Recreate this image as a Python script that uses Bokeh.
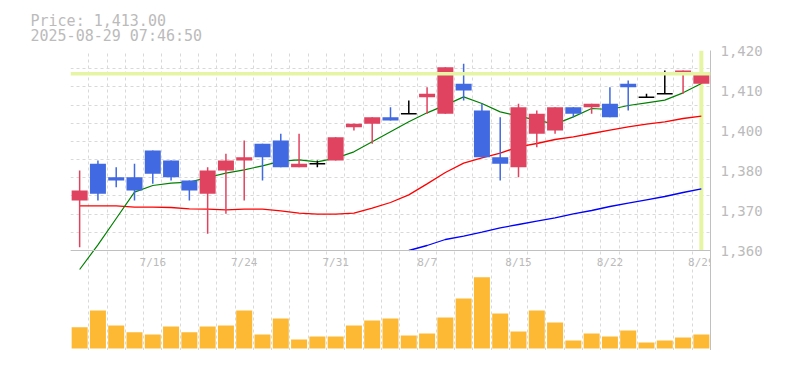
import math
from bokeh.plotting import figure
from bokeh.models import (ColumnDataSource, FixedTicker, Range1d, Span, Title)
from bokeh.core.properties import value
from bokeh.embed import file_html
from bokeh.resources import INLINE

# ---------------- data ----------------
dates = ["7/10", "7/11", "7/14", "7/15", "7/16", "7/17", "7/18", "7/22", "7/23", "7/24",
         "7/25", "7/28", "7/29", "7/30", "7/31", "8/1", "8/4", "8/5", "8/6", "8/7",
         "8/8", "8/12", "8/13", "8/14", "8/15", "8/18", "8/19", "8/20", "8/21", "8/22",
         "8/25", "8/26", "8/27", "8/28", "8/29"]
opens = [1375, 1386, 1382, 1382, 1390, 1387, 1381, 1377, 1384, 1387,
         1392, 1393, 1385, 1386, 1387, 1397, 1398, 1400, 1401, 1406,
         1401, 1410, 1402, 1388, 1385, 1395, 1396, 1403, 1403, 1404,
         1410, 1406, 1407, 1413, 1410]
highs = [1384, 1387, 1385, 1386, 1390, 1387, 1381, 1385, 1389, 1393,
         1392, 1395, 1395, 1387, 1394, 1398, 1400, 1403, 1405, 1409,
         1415, 1416, 1404, 1400, 1404, 1402, 1403, 1403, 1404, 1409,
         1411, 1407, 1414, 1414, 1413]
lows = [1361, 1375, 1379, 1375, 1380, 1381, 1375, 1365, 1371, 1375,
        1381, 1385, 1385, 1385, 1387, 1396, 1392, 1399, 1401, 1401,
        1401, 1405, 1388, 1381, 1382, 1391, 1395, 1400, 1401, 1400,
        1402, 1406, 1407, 1407, 1410]
closes = [1378, 1377, 1381, 1378, 1383, 1382, 1378, 1384, 1387, 1388,
          1388, 1385, 1386, 1386, 1394, 1398, 1400, 1399, 1401, 1407,
          1415, 1408, 1388, 1386, 1403, 1401, 1403, 1401, 1404, 1400,
          1409, 1406, 1407, 1414, 1413]
ma5 = [1354.3, 1361.7, 1369.6, 1377.5, 1379.5, 1380.2, 1380.5, 1381.9, 1383.2, 1384.2,
       1385.4, 1386.8, 1387.2, 1386.6, 1387.7, 1389.6, 1392.6, 1395.6, 1398.6, 1401.3,
       1403.6, 1406.1, 1404.1, 1401.6, 1400.3, 1399.1, 1397.9, 1400.1, 1402.6, 1402.3,
       1403.5, 1404.3, 1405.1, 1407.3, 1410.1]
ma25 = [1373.4, 1373.4, 1373.4, 1373.0, 1373.0, 1372.9, 1372.5, 1372.4, 1372.2, 1372.4,
        1372.4, 1371.9, 1371.2, 1370.9, 1370.9, 1371.2, 1372.7, 1374.4, 1376.7, 1380.0,
        1383.4, 1386.2, 1387.8, 1389.2, 1391.1, 1392.1, 1393.3, 1394.1, 1395.1, 1396.1,
        1397.1, 1397.9, 1398.6, 1399.6, 1400.3]
ma75 = [math.nan] * 18 + [1360.0, 1361.5, 1363.3, 1364.3, 1365.5, 1366.8, 1367.8, 1368.8,
                          1369.8, 1371.0, 1372.0, 1373.2, 1374.2, 1375.2, 1376.2, 1377.4, 1378.5]
volumes = [213, 380, 230, 163, 140, 220, 163, 220, 230, 380,
           140, 300, 90, 120, 120, 230, 280, 300, 130, 150,
           310, 500, 713, 350, 170, 380, 260, 80, 150, 120,
           180, 60, 80, 110, 140]

date_tick_labels = ["7/16", "7/24", "7/31", "8/7", "8/15", "8/22", "8/29"]
price_ticks = [1420, 1408, 1396, 1384, 1372, 1360]
price_tick_labels = ["1,420", "1,410", "1,400", "1,380", "1,370", "1,360"]
last_price = 1413.00
timestamp = "2025-08-29 07:46:50"

# ---------------- styles ----------------
UP = "#e0435f"
DOWN = "#4169e1"
DOJI = "#000000"
VOL = "#fdb934"
HILITE = "#e6f5a3"
GRID = "#d9d9d9"
AXIS = "#c0c0c0"
TXT = "#bbbbbb"
MONO = "DejaVu Sans Mono"

idx = list(range(len(dates)))
n = len(dates)
ymin, ymax = price_ticks[-1], price_ticks[0]

p = figure(frame_width=640, frame_height=300,
           x_range=Range1d(-0.5, n - 0.5), y_range=Range1d(1330, ymax),
           y_axis_location="right", x_axis_location="below",
           output_backend="svg", toolbar_location=None,
           min_border_left=70, min_border_top=50, min_border_right=5, min_border_bottom=0)
p.extra_y_ranges = {"vol": Range1d(-20, 2980)}
p.outline_line_color = None
p.background_fill_color = "white"
p.border_fill_color = "white"

# header text (two lines)
p.add_layout(Title(text=f"Price: {last_price:,.2f}\n{timestamp}", align="left", offset=-40,
                   standoff=10.5, text_line_height=0.87,
                   text_font=MONO, text_font_size="15px", text_font_style="normal",
                   text_color=TXT), "above")

# grid
p.xgrid.ticker = FixedTicker(ticks=[i - 0.5 for i in range(n + 1)])
p.ygrid.ticker = FixedTicker(ticks=[ymin + k * (ymax - ymin) / 11 for k in range(12)])
for g in (p.xgrid, p.ygrid):
    g.grid_line_color = GRID
    g.grid_line_dash = "3 3"
    g.grid_line_width = 1

# axes
ya = p.yaxis[0]
ya.ticker = FixedTicker(ticks=price_ticks)
ya.major_label_overrides = {t: s for t, s in zip(price_ticks, price_tick_labels)}
ya.axis_line_color = AXIS
ya.major_tick_line_color = None
ya.minor_tick_line_color = None
ya.major_tick_out = 0
ya.major_tick_in = 0
ya.minor_tick_out = 0
ya.major_label_text_color = TXT
ya.major_label_text_font = MONO
ya.major_label_text_font_size = "14px"
ya.major_label_standoff = 10

xa = p.xaxis[0]
xa.ticker = FixedTicker(ticks=[])
xa.axis_line_color = AXIS
xa.major_tick_line_color = None
xa.minor_tick_line_color = None
xa.major_tick_out = 0
xa.minor_tick_out = 0
xa.major_label_text_font_size = "0px"

# price panel bottom line
p.add_layout(Span(location=ymin, dimension="width", line_color=AXIS, line_width=1))

# highlight lines
p.add_layout(Span(location=last_price, dimension="width", line_color=HILITE, line_width=3.5))
p.segment(x0=[idx[-1]], y0=[ymin], x1=[idx[-1]], y1=[ymax], line_color=HILITE, line_width=4)

# candles
def sub(cond):
    ii = [i for i in idx if cond(i)]
    return ColumnDataSource(dict(x=ii, o=[opens[i] for i in ii], c=[closes[i] for i in ii],
                                 h=[highs[i] for i in ii], l=[lows[i] for i in ii],
                                 top=[max(opens[i], closes[i]) for i in ii],
                                 bot=[min(opens[i], closes[i]) for i in ii],
                                 xl=[i - 0.43 for i in ii], xr=[i + 0.43 for i in ii]))

up = sub(lambda i: closes[i] > opens[i])
dn = sub(lambda i: closes[i] < opens[i])
dj = sub(lambda i: closes[i] == opens[i])

# MA lines
p.line(idx, ma75, line_color="#0000ff", line_width=1.3)
p.line(idx, ma25, line_color="#ff0000", line_width=1.3)
p.line(idx, ma5, line_color="#008000", line_width=1.2)

for src, col in ((up, UP), (dn, DOWN)):
    p.segment(x0="x", y0="l", x1="x", y1="h", source=src, line_color=col, line_width=1.5)
    p.vbar(x="x", top="top", bottom="bot", width=0.875, source=src,
           fill_color=col, line_color=None)
p.segment(x0="x", y0="l", x1="x", y1="h", source=dj, line_color=DOJI, line_width=1.5)
p.segment(x0="xl", y0="o", x1="xr", y1="c", source=dj, line_color=DOJI, line_width=1.5)

# volume
p.vbar(x=idx, top=volumes, bottom=0, width=0.875, y_range_name="vol",
       fill_color=VOL, line_color=None)

# date labels (between panels)
tick_x = [dates.index(d) for d in date_tick_labels]
p.text(x=tick_x, y=[ymin] * len(tick_x), text=date_tick_labels,
       text_font=value(MONO), text_font_size="11px", text_color=TXT,
       text_align="center", text_baseline="top", y_offset=5)

open("out.html", "w").write(file_html(p, INLINE))
